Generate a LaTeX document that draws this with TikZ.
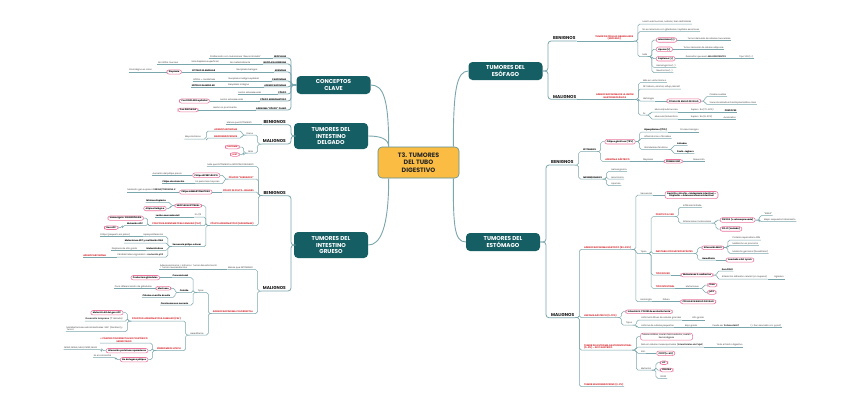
\documentclass[tikz,border=0pt]{standalone}
\usepackage{fontspec}
\setmainfont{Poppins}
\newfontfamily\arrfont{DejaVu Sans}
\newcommand\arr{{\arrfont →}}
\definecolor{mteal}{RGB}{20,94,100}
\definecolor{lnc}{RGB}{122,166,173}
\definecolor{redc}{RGB}{215,38,45}
\definecolor{pinkc}{RGB}{236,118,160}
\definecolor{txtc}{RGB}{60,60,60}
\definecolor{ctrc}{RGB}{250,188,66}
\newcommand\cnL[2]{\draw[ln] (#1) -| ([xshift=4pt]#2.south east) -- (#2.south west);}
\newcommand\cnLp[2]{\draw[ln] (#1) -| ([xshift=4pt]#2.east) -- (#2.east);}
\newcommand\cnR[2]{\draw[ln] (#1) -| ([xshift=-4pt]#2.south west) -- (#2.south east);}
\newcommand\cnRp[2]{\draw[ln] (#1) -| ([xshift=-4pt]#2.west) -- (#2.west);}
\newcommand\cnLm[2]{\draw[ln,line width=0.8pt,rounded corners=3pt] (#1) -| ([xshift=4pt]#2.south east) -- (#2.south west);}
\newcommand\cnRm[2]{\draw[ln,line width=0.8pt,rounded corners=3pt] (#1) -| ([xshift=-4pt]#2.south west) -- (#2.south east);}
\begin{document}
\begin{tikzpicture}[x=1pt,y=-1pt,
 ln/.style={draw=lnc, line width=0.5pt, rounded corners=1.8pt},
 mln/.style={draw=lnc, line width=0.9pt},
 mainbox/.style={fill=mteal, text=white, rounded corners=4pt, font=\fontsize{5.7}{6.6}\selectfont\bfseries, align=center, minimum width=74pt, inner sep=1pt},
 cbox/.style={fill=ctrc, draw=mteal!70, line width=0.6pt, rounded corners=4pt, text=black!85, font=\fontsize{6.3}{7.3}\selectfont\bfseries, align=center, minimum width=81pt, minimum height=31pt},
 lvl/.style={font=\fontsize{4.3}{5}\selectfont\bfseries, text=black!90, inner xsep=1pt, inner ysep=0.8pt},
 lt/.style={font=\fontsize{2.2}{2.7}\selectfont, text=txtc, inner xsep=0.5pt, inner ysep=0.5pt, align=left},
 lb/.style={lt, font=\fontsize{2.2}{2.7}\selectfont\bfseries, text=black},
 lr/.style={lt, font=\fontsize{2.3}{2.8}\selectfont\bfseries, text=redc, align=center},
 pk/.style={draw=pinkc, line width=0.55pt, fill=white, rounded corners=2.2pt, font=\fontsize{2.2}{2.7}\selectfont\bfseries, text=black, inner xsep=2pt, inner ysep=1pt, align=center},
 pkr/.style={pk, text=redc},
 L/.style={anchor=south east}, R/.style={anchor=south west},
 PL/.style={anchor=east}, PR/.style={anchor=west}]
\fill[white] (0,0) rectangle (848,408);
\useasboundingbox (0,0) rectangle (848,408);

% ===== main nodes
\node[cbox] (ctr) at (418.5,162.5) {T3. TUMORES\\DEL TUBO\\DIGESTIVO};
\node[mainbox, minimum height=18pt] (cc) at (333.5,85) {CONCEPTOS\\CLAVE};
\node[mainbox, minimum height=26pt] (dg) at (331,136) {TUMORES DEL\\INTESTINO\\DELGADO};
\node[mainbox, minimum height=26pt] (gr) at (331,245) {TUMORES DEL\\INTESTINO\\GRUESO};
\node[mainbox, minimum height=18pt] (es) at (505.5,71) {TUMORES DEL\\ESÓFAGO};
\node[mainbox, minimum height=18pt] (et) at (503,242) {TUMORES DEL\\ESTÓMAGO};

\draw[mln] ([xshift=11pt]ctr.north west) .. controls +(0,-50) and +(12,0) .. (cc.east);
\draw[mln] ([xshift=11pt]ctr.north west) .. controls +(0,-8) and +(12,0) .. (dg.east);
\draw[mln] ([xshift=11pt]ctr.south west) .. controls +(0,50) and +(12,0) .. (gr.east);
\draw[mln] ([xshift=-6pt]ctr.north east) .. controls +(0,-55) and +(-12,0) .. (es.west);
\draw[mln] ([xshift=-6pt]ctr.south east) .. controls +(0,45) and +(-12,0) .. (et.west);

% ===== CONCEPTOS CLAVE
\node[lb,L] (k1a) at (287,58) {NEOPLASIA};
\node[lt,L] (k1b) at ([xshift=-12pt]k1a.south west) {Proliferación con mutaciones ``descontrolada''};
\cnLm{cc.west}{k1a}
\draw[ln] (k1a.south west) -- (k1b.south west);

\node[lb,L] (k2a) at (287,64) {NEOPLASIA BENIGNA};
\node[lt,L] (k2b) at ([xshift=-12pt]k2a.south west) {No metastatizante};
\node[lt,L] (k2c) at ([xshift=-10pt]k2b.south west) {Solo displasia superficial};
\node[lt,L] (k2d) at ([xshift=-12pt]k2c.south west) {No infiltra mucosa};
\cnLm{cc.west}{k2a}
\draw[ln] (k2a.south west) -- (k2d.south west);

\node[lb,L] (k3a) at (287,72) {ADENOMA};
\node[lt,L] (k3b) at ([xshift=-16pt]k3a.south west) {Neoplasia benigna};
\node[lb,L] (k3c) at ([xshift=-20pt]k3b.south west) {EPITELIO GLANDULAR};
\node[pk,PL] (k3d) at ([xshift=-10pt]k3c.south west) {Displasia};
\node[lt,L] (k3e) at ([xshift=-14pt]k3d.west) {Premaligno en colon};
\cnLm{cc.west}{k3a}
\draw[ln] (k3a.south west) -- (k3d.east);
\draw[ln] (k3d.west) -- (k3e.south west);

\node[lb,L] (k4a) at (287,81) {CARCINOMA};
\node[lt,L] (k4b) at ([xshift=-12pt]k4a.south west) {Neoplasia maligna epitelial};
\node[lt,L] (k4c) at ([xshift=-12pt]k4b.south west) {Infiltra \arr{} metástasis};
\cnLm{cc.west}{k4a}
\draw[ln] (k4a.south west) -- (k4c.south west);

\node[lb,L] (k5a) at (287,87) {ADENOCARCINOMA};
\node[lt,L] (k5b) at ([xshift=-14pt]k5a.south west) {Neoplasia maligna};
\node[lb,L] (k5c) at ([xshift=-12pt]k5b.south west) {EPITELIO GLANDULAR};
\cnLm{cc.west}{k5a}
\draw[ln] (k5a.south west) -- (k5c.south west);

\node[lb,L] (k6a) at (287,94) {PÓLIPO};
\node[lt,L] (k6b) at ([xshift=-16pt]k6a.south west) {Lesión sobreelevada};
\cnLm{cc.west}{k6a}
\draw[ln] (k6a.south west) -- (k6b.south west);

\node[lb,L] (k7a) at (287,101) {PÓLIPO ADENOMATOSO};
\node[lt,L] (k7b) at ([xshift=-16pt]k7a.south west) {Lesión sobreelevada};
\node[pk,PL] (k7c) at ([xshift=-10pt]k7b.south west) {Con DISPLASIA epitelial};
\cnLm{cc.west}{k7a}
\draw[ln] (k7a.south west) -- (k7c.east);

\node[lb,L] (k8a) at (287,110) {ADENOMA ``PÓLIPO'' PLANO};
\node[lt,L] (k8b) at ([xshift=-18pt]k8a.south west) {Lesión no prominente};
\node[pk,PL] (k8c) at ([xshift=-14pt]k8b.south west) {Con DISPLASIA};
\cnLm{cc.west}{k8a}
\draw[ln] (k8a.south west) -- (k8c.east);

% ===== INTESTINO DELGADO
\node[lvl,L] (dben) at (287,124.7) {BENIGNOS};
\node[lt,L] (dben1) at ([xshift=-10pt]dben.south west) {Menos que ESTÓMAGO};
\cnLm{dg.west}{dben}
\draw[ln] (dben.south west) -- (dben1.south west);

\node[lvl,L] (dmal) at (287,144) {MALIGNOS};
\cnLm{dg.west}{dmal}
\node[lt,L] (draros) at ([xshift=-8pt,yshift=9pt]dmal.south west) {Raros};
\cnL{dmal.south west}{draros}
\node[lr,L] (dadc) at ([xshift=-8pt,yshift=4pt]draros.south west) {ADENOCARCINOMA};
\node[lr,L] (dneu) at ([xshift=-8pt,yshift=-3pt]draros.south west) {NEUROENDOCRINOS};
\cnL{draros.south west}{dadc}
\cnL{draros.south west}{dneu}
\node[lt,L] (dmay) at ([xshift=-12pt,yshift=-1pt]dneu.south west) {Mayoría Raros};
\draw[ln] (dadc.south west) -| ([xshift=5pt]dmay.south east) -- (dmay.south west);
\draw[ln] (dneu.south west) -| ([xshift=5pt]dmay.south east);
\node[lt,L] (dmas) at ([xshift=-8pt,yshift=-9pt]dmal.south west) {Más};
\cnL{dmal.south west}{dmas}
\node[pkr,PL] (dlin) at ([xshift=-8pt,yshift=6pt]dmas.south west) {LINFOMA};
\node[pkr,PL] (dgist) at ([xshift=-8pt,yshift=-1.5pt]dmas.south west) {GIST};
\cnLp{dmas.south west}{dlin}
\cnLp{dmas.south west}{dgist}

% ===== INTESTINO GRUESO - BENIGNOS
\node[lvl,L] (gben) at (287,195.7) {BENIGNOS};
\cnLm{gr.west}{gben}
\node[lt,L] (gb1) at ([xshift=-8pt,yshift=29pt]gben.south west) {Más que ESTÓMAGO e INTESTINO DELGADO};
\node[lr,L] (gb2) at ([xshift=-8pt,yshift=16.7pt]gben.south west) {PÓLIPOS ``SERRADOS''};
\node[lr,L] (gb3) at ([xshift=-8pt,yshift=3.7pt]gben.south west) {PÓLIPO DE PEUTZ-JEGHERS};
\node[lr,L] (gb4) at ([xshift=-8pt,yshift=-30pt]gben.south west) {PÓLIPO ADENOMATOSO (ADENOMAS)};
\cnL{gben.south west}{gb1}
\cnL{gben.south west}{gb2}
\cnL{gben.south west}{gb3}
\cnL{gben.south west}{gb4}

\node[pk,PL] (gb2a) at ([xshift=-8pt,yshift=3.7pt]gb2.south west) {Pólipo HIPERPLÁSICO};
\node[lt,L] (gb2a1) at ([xshift=-10pt]gb2a.west) {Aumento del pólipo previo};
\cnLp{gb2.south west}{gb2a}
\draw[ln] (gb2a.west) -- (gb2a1.south west);
\node[lt,L] (gb2b) at ([xshift=-8pt,yshift=-4.5pt]gb2.south west) {En personas mayores};
\node[lb,L] (gb2c) at ([xshift=-10pt]gb2b.south west) {Pólipo de retención};
\cnL{gb2.south west}{gb2b}
\draw[ln] (gb2b.south west) -- (gb2c.south west);

\node[pk,PL] (gb3a) at ([xshift=-10pt]gb3.south west) {Pólipo HAMARTOMATOSO};
\node[lt,L] (gb3a1) at ([xshift=-3pt]gb3a.west) {Mutación gen supresor \textbf{SERINA/TREONINA K}};
\draw[ln] (gb3.south west) -- (gb3a.east);
\draw[ln] (gb3a.west) -- (gb3a1.south west);

\node[pk,PL] (gb4a) at ([xshift=-8pt,yshift=20pt]gb4.south west) {NEOPLASIA EPITELIAL};
\cnLp{gb4.south west}{gb4a}
\node[lb,L] (gb4a1) at ([xshift=-8pt,yshift=3.4pt]gb4a.west) {Mínima displasia};
\node[pk,PL] (gb4a2) at ([xshift=-8pt,yshift=-2.8pt]gb4a.west) {Atipia citológica};
\cnL{gb4a.west}{gb4a1}
\cnLp{gb4a.west}{gb4a2}
\node[lt,L] (gb4b) at ([xshift=-8pt,yshift=8.7pt]gb4.south west) {En 1/3};
\node[lb,L] (gb4c) at ([xshift=-14pt]gb4b.south west) {Lesión aserrada sésil};
\cnL{gb4.south west}{gb4b}
\draw[ln] (gb4b.south west) -- (gb4c.south west);
\node[lr,L] (gb4d) at ([xshift=-8pt]gb4.south west) {POLIPOSIS ADENOMATOSA FAMILIAR (PAF)};
\cnL{gb4.south west}{gb4d}
\node[pk,PL] (gb4d1) at ([xshift=-8pt,yshift=7.5pt]gb4d.south west) {Homocigoto: SIN NEOPLASIA};
\node[lb,L] (gb4d2) at ([xshift=-8pt]gb4d.south west) {Mutación APC};
\node[pk,PL] (gb4d3) at ([xshift=-8pt,yshift=-2pt]gb4d2.south west) {Gen APC};
\cnLp{gb4d.south west}{gb4d1}
\cnL{gb4d.south west}{gb4d2}
\cnLp{gb4d2.south west}{gb4d3}
\node[lb,L] (gb4e) at ([xshift=-8pt,yshift=-21pt]gb4.south west) {Secuencia pólipo-cáncer};
\cnL{gb4.south west}{gb4e}
\node[lt,L] (s1a) at ([xshift=-8pt,yshift=10pt]gb4e.south west) {Hiperproliferación};
\node[lt,L] (s1b) at ([xshift=-12pt]s1a.south west) {Pólipo (pequeño sin plano)};
\node[lb,L] (s2) at ([xshift=-8pt,yshift=3.7pt]gb4e.south west) {Mutaciones APC y metilación DNA};
\node[lb,L] (s3a) at ([xshift=-8pt,yshift=-3.6pt]gb4e.south west) {Mutación Kras};
\node[lt,L] (s3b) at ([xshift=-8pt]s3a.south west) {Displasia de alto grado};
\node[lt,L] (s4a) at ([xshift=-8pt,yshift=-10.3pt]gb4e.south west) {Pérdida heterocigosidad + \textbf{mutación p53}};
\node[lr,L] (s4b) at ([xshift=-10pt]s4a.south west) {ADENOCARCINOMA};
\cnL{gb4e.south west}{s1a}
\cnL{gb4e.south west}{s2}
\cnL{gb4e.south west}{s3a}
\cnL{gb4e.south west}{s4a}
\draw[ln] (s1a.south west) -- (s1b.south west);
\draw[ln] (s3a.south west) -- (s3b.south west);
\draw[ln] (s4a.south west) -- (s4b.south west);

% ===== INTESTINO GRUESO - MALIGNOS
\node[lvl,L] (gmal) at (287,291) {MALIGNOS};
\cnLm{gr.west}{gmal}
\node[lt,L] (gm1) at ([xshift=-8pt,yshift=21.3pt]gmal.south west) {Menos que ESTÓMAGO};
\node[lt,L] (gm1a) at ([xshift=-10pt]gm1.south west) {Adenocarcinoma > Linfoma > Tumor del estroma GI\\> Tumor neuroendocrino};
\cnL{gmal.south west}{gm1}
\draw[ln] (gm1.south west) -- (gm1a.south west);
\node[lr,L] (gm2) at ([xshift=-8pt,yshift=-22.5pt]gmal.south west) {ADENOCARCINOMA COLORRECTAL};
\cnL{gmal.south west}{gm2}

\node[lt,L] (tp) at ([xshift=-8pt,yshift=21pt]gm2.south west) {Tipos};
\cnL{gm2.south west}{tp}
\node[lb,L] (tp1) at ([xshift=-8pt,yshift=14.8pt]tp.south west) {Convencional};
\node[pk,PL] (tp1a) at ([xshift=-12pt]tp1.south west) {Productora glándulas};
\cnL{tp.south west}{tp1}
\draw[ln] (tp1.south west) -- (tp1a.east);
\node[lb,L] (tp2) at ([xshift=-8pt]tp.south west) {Coloide};
\cnL{tp.south west}{tp2}
\node[pk,PL] (tp2a) at ([xshift=-8pt,yshift=4.2pt]tp2.south west) {Mucinoso};
\node[lt,L] (tp2a1) at ([xshift=-3pt]tp2a.west) {Poca diferenciación de glándulas};
\cnLp{tp2.south west}{tp2a}
\draw[ln] (tp2a.west) -- (tp2a1.south west);
\node[lb,L] (tp2b) at ([xshift=-8pt,yshift=-4.8pt]tp2.south west) {Células en anillo de sello};
\cnL{tp2.south west}{tp2b}
\node[lb,L] (tp3) at ([xshift=-8pt,yshift=-12.5pt]tp.south west) {Carcinoma con necrosis};
\cnL{tp.south west}{tp3}

\node[lt,L] (her) at ([xshift=-8pt,yshift=-21.5pt]gm2.south west) {Hereditarios};
\cnL{gm2.south west}{her}
\node[lr,L] (paf) at ([xshift=-8pt,yshift=14pt]her.south west) {POLIPOSIS ADENOMATOSA FAMILIAR (PAF)};
\cnL{her.south west}{paf}
\node[pk,PL] (paf1) at ([xshift=-8pt,yshift=8.3pt]paf.south west) {Mutación AD del gen APC};
\node[lt,L] (paf2) at ([xshift=-8pt]paf.south west) {\textbf{Desarrollo temprano} (1ª década)};
\node[lt,L] (paf3) at ([xshift=-8pt,yshift=-10.7pt]paf.south west) {Manifestaciones extraintestinales: SNC (Gardner) y\\Turcot};
\cnLp{paf.south west}{paf1}
\cnL{paf.south west}{paf2}
\cnL{paf.south west}{paf3}
\node[lr,L] (lyn) at ([xshift=-8pt,yshift=-15.7pt]her.south west) {SÍNDROME DE LYNCH};
\cnL{her.south west}{lyn}
\node[lr,L] (lynn) at ([xshift=-8pt,yshift=7.7pt]lyn.south west) {+ CÁNCER COLORRECTAL NO POLIPÓSICO\\HEREDITARIO};
\node[pk,PL] (lyn1) at ([xshift=-8pt]lyn.south west) {Alteración proteínas reparadoras};
\node[lt,L] (lyn1a) at ([xshift=-8pt,yshift=1.2pt]lyn1.west) {MSH2, MSH6, MLH1, PMS2, MLH3};
\node[pk,PL] (lyn2) at ([xshift=-8pt,yshift=-9pt]lyn.south west) {No da lugar a pólipos};
\node[lt,L] (lyn2a) at ([xshift=-8pt,yshift=2.2pt]lyn2.west) {En el colorrectal};
\cnL{lyn.south west}{lynn}
\cnLp{lyn.south west}{lyn1}
\cnLp{lyn.south west}{lyn2}
\cnL{lyn1.west}{lyn1a}
\cnL{lyn2.west}{lyn2a}

% ===== ESOFAGO
\node[lvl,R] (eben) at (552,41) {BENIGNOS};
\cnRm{es.east}{eben}
\node[lr,R] (egran) at ([xshift=18pt]eben.south east) {TUMOR DE CÉLULAS GRANULARES\\(ESÓFAGO)};
\draw[ln] (eben.south east) -- (egran.south east);
\node[lt,R] (eg1) at ([xshift=8pt,yshift=17pt]egran.south east) {Lesión submucosa, nodular, bien delimitada};
\node[lt,R] (eg2) at ([xshift=8pt,yshift=9.3pt]egran.south east) {No se relaciona con glándulas ni epitelio escamoso};
\node[lt,R] (eg3) at ([xshift=8pt,yshift=-15.7pt]egran.south east) {Más};
\cnR{egran.south east}{eg1}
\cnR{egran.south east}{eg2}
\cnR{egran.south east}{eg3}
\node[pk,PR] (eg3a) at ([xshift=8pt,yshift=16.7pt]eg3.south east) {Leiomioma (+)};
\node[lt,R] (eg3a1) at ([xshift=10pt]eg3a.east) {Tumor derivado de células musculares};
\node[pk,PR] (eg3b) at ([xshift=8pt,yshift=7.4pt]eg3.south east) {Lipoma (+)};
\node[lt,R] (eg3b1) at ([xshift=10pt]eg3b.east) {Tumor derivado de células adiposas};
\node[pk,PR] (eg3c) at ([xshift=8pt,yshift=-2pt]eg3.south east) {Papiloma (+)};
\node[lt,R] (eg3c1) at ([xshift=10pt]eg3c.east) {Descartar que sean \textbf{MALIGNIZANTES}};
\node[lt,R] (eg3c2) at ([xshift=12pt]eg3c1.south east) {Tipo VPH (+)};
\node[lt,R] (eg3d) at ([xshift=8pt,yshift=-10.6pt]eg3.south east) {Hemangioma (-)};
\node[lt,R] (eg3e) at ([xshift=8pt,yshift=-15.8pt]eg3.south east) {Neurinoma (-)};
\cnRp{eg3.south east}{eg3a}
\cnRp{eg3.south east}{eg3b}
\cnRp{eg3.south east}{eg3c}
\cnR{eg3.south east}{eg3d}
\cnR{eg3.south east}{eg3e}
\draw[ln] (eg3a.east) -- (eg3a1.south east);
\draw[ln] (eg3b.east) -- (eg3b1.south east);
\draw[ln] (eg3c.east) -- (eg3c2.south east);

\node[lvl,R] (emal) at (552,99.3) {MALIGNOS};
\cnRm{es.east}{emal}
\node[lr,R] (eadc) at ([xshift=18pt]emal.south east) {ADENOCARCINOMA DE LA UNIÓN\\GASTROESOFÁGICA};
\draw[ln] (emal.south east) -- (eadc.south east);
\node[lt,R] (ea1) at ([xshift=8pt,yshift=16.6pt]eadc.south east) {Más en varón blanco};
\node[lt,R] (ea2) at ([xshift=8pt,yshift=10.3pt]eadc.south east) {FR: tabaco, alcohol, reflujo, Barrett};
\node[lt,R] (ea3) at ([xshift=8pt,yshift=-1.7pt]eadc.south east) {Histología};
\node[lt,R] (ea4) at ([xshift=8pt,yshift=-15.7pt]eadc.south east) {Px};
\cnR{eadc.south east}{ea1}
\cnR{eadc.south east}{ea2}
\cnR{eadc.south east}{ea3}
\cnR{eadc.south east}{ea4}
\node[pk,PR] (ea3a) at ([xshift=12pt]ea3.south east) {CÉLULA EN ANILLO DE SELLO};
\draw[ln] (ea3.south east) -- (ea3a.west);
\node[lt,R] (ea3a1) at ([xshift=8pt,yshift=4.3pt]ea3a.east) {Células sueltas};
\node[lt,R] (ea3a2) at ([xshift=8pt,yshift=-3.3pt]ea3a.east) {Vacuola aislada intracitoplasmática clara};
\cnR{ea3a.east}{ea3a1}
\cnR{ea3a.east}{ea3a2}
\node[lt,R] (ea4a) at ([xshift=8pt,yshift=3pt]ea4.south east) {Mucosa/submucosa};
\node[lt,R] (ea4b) at ([xshift=12pt]ea4a.south east) {Superv. 5a (70-90\%)};
\node[lb,R] (ea4c) at ([xshift=10pt]ea4b.south east) {PRECOCES};
\node[lt,R] (ea5a) at ([xshift=8pt,yshift=-4pt]ea4.south east) {Muscular/adventicia};
\node[lt,R] (ea5b) at ([xshift=12pt]ea5a.south east) {Superv. 5a (8-30\%)};
\node[lt,R] (ea5c) at ([xshift=10pt]ea5b.south east) {Avanzados};
\cnR{ea4.south east}{ea4a}
\cnR{ea4.south east}{ea5a}
\draw[ln] (ea4a.south east) -- (ea4c.south east);
\draw[ln] (ea5a.south east) -- (ea5c.south east);

% ===== ESTOMAGO - BENIGNOS
\node[lvl,R] (tben) at (550,165) {BENIGNOS};
\cnRm{et.east}{tben}
\node[lb,R] (tb1) at ([xshift=8pt,yshift=13.3pt]tben.south east) {EPITELIALES};
\node[lb,R] (tb2) at ([xshift=8pt,yshift=-14pt]tben.south east) {MESENQUIMALES};
\cnR{tben.south east}{tb1}
\cnR{tben.south east}{tb2}
\node[pk,PR] (tb1a) at ([xshift=8pt,yshift=10pt]tb1.south east) {Pólipos gástricos (75\%)};
\cnRp{tb1.south east}{tb1a}
\node[lb,R] (tb1a1) at ([xshift=8pt,yshift=9.7pt]tb1a.east) {Hiperplásicos (75\%)};
\node[lt,R] (tb1a1b) at ([xshift=12pt]tb1a1.south east) {Proceso benigno};
\node[lt,R] (tb1a2) at ([xshift=8pt,yshift=3.4pt]tb1a.east) {Inflamatorios o fibroides};
\node[lt,R] (tb1a3) at ([xshift=8pt,yshift=-7.6pt]tb1a.east) {Glandulares fúndicos};
\cnR{tb1a.east}{tb1a1}
\cnR{tb1a.east}{tb1a2}
\cnR{tb1a.east}{tb1a3}
\draw[ln] (tb1a1.south east) -- (tb1a1b.south east);
\node[lb,R] (tb1a3a) at ([xshift=8pt,yshift=3.6pt]tb1a3.south east) {Aislados};
\node[lb,R] (tb1a3b) at ([xshift=8pt,yshift=-4pt]tb1a3.south east) {Peutz-Jeghers};
\cnR{tb1a3.south east}{tb1a3a}
\cnR{tb1a3.south east}{tb1a3b}
\node[lr,R] (tb1b) at ([xshift=8pt,yshift=-9.6pt]tb1.south east) {ADENOMA GÁSTRICO};
\node[lt,R] (tb1b1) at ([xshift=12pt]tb1b.south east) {Displasia};
\node[pk,PR] (tb1b2) at ([xshift=10pt]tb1b1.south east) {PREMALIGNO};
\node[lt,R] (tb1b3) at ([xshift=10pt]tb1b2.east) {Resección};
\cnR{tb1.south east}{tb1b}
\draw[ln] (tb1b.south east) -- (tb1b2.west);
\draw[ln] (tb1b2.east) -- (tb1b3.south east);
\node[lt,R] (tb2a) at ([xshift=8pt,yshift=7.3pt]tb2.south east) {Hemangioma};
\node[lt,R] (tb2b) at ([xshift=8pt]tb2.south east) {Leiomioma};
\node[lt,R] (tb2c) at ([xshift=8pt,yshift=-6.7pt]tb2.south east) {Lipomas};
\cnR{tb2.south east}{tb2a}
\cnR{tb2.south east}{tb2b}
\cnR{tb2.south east}{tb2c}

% ===== ESTOMAGO - MALIGNOS
\node[lvl,R] (tmal) at (550,317.7) {MALIGNOS};
\cnRm{et.east}{tmal}
\node[lr,R] (ag) at ([xshift=8pt,yshift=68.4pt]tmal.south east) {ADENOCARCINOMA GÁSTRICO (90-95\%)};
\node[lr,R] (lg) at ([xshift=8pt]tmal.south east) {LINFOMA GÁSTRICO (5-10\%)};
\node[lr,R,align=left] (gs) at ([xshift=8pt,yshift=-32.3pt]tmal.south east) {TUMOR DEL ESTROMA GASTROINTESTINAL\\(5-8\%) - GIST GÁSTRICO};
\node[lr,R] (ne) at ([xshift=8pt,yshift=-69pt]tmal.south east) {TUMOR NEUROENDOCRINO (2-3\%)};
\cnR{tmal.south east}{ag}
\cnR{tmal.south east}{lg}
\cnR{tmal.south east}{gs}
\cnR{tmal.south east}{ne}

\node[lt,R] (ag1) at ([xshift=8pt,yshift=54.3pt]ag.south east) {Secuencia};
\node[pk,PR] (ag1a) at ([xshift=12pt]ag1.south east) {Gastritis y Atrofia \arr{} Metaplasia intestinal \arr{}\\Displasia \arr{} Adenocarcinoma intestinal};
\node[lt,R] (ag2) at ([xshift=8pt,yshift=-4.2pt]ag.south east) {Tipos};
\node[lt,R] (ag3) at ([xshift=8pt,yshift=-52.4pt]ag.south east) {Histología};
\cnR{ag.south east}{ag1}
\cnR{ag.south east}{ag2}
\cnR{ag.south east}{ag3}
\draw[ln] (ag1.south east) -- (ag1a.west);
\node[lt,R] (ag3a) at ([xshift=10pt]ag3.south east) {Difuso};
\node[pk,PR] (ag3b) at ([xshift=10pt]ag3a.south east) {CÉLULAS EN ANILLO DE SELLO};
\draw[ln] (ag3.south east) -- (ag3b.west);

\node[lr,R] (t1) at ([xshift=8pt,yshift=36.8pt]ag2.south east) {POSITIVO A VEB};
\node[lr,R] (t2) at ([xshift=8pt]ag2.south east) {INESTABLE POR MICROSATÉLITES};
\node[lr,R] (t3) at ([xshift=8pt,yshift=-21.5pt]ag2.south east) {TIPO DIFUSO};
\node[lr,R] (t4) at ([xshift=8pt,yshift=-34.8pt]ag2.south east) {TIPO INTESTINAL};
\cnR{ag2.south east}{t1}
\cnR{ag2.south east}{t2}
\cnR{ag2.south east}{t3}
\cnR{ag2.south east}{t4}

\node[lt,R] (t1a) at ([xshift=8pt,yshift=9.4pt]t1.south east) {Infiltrado linfoide};
\node[lt,R] (t1b) at ([xshift=8pt,yshift=-6.3pt]t1.south east) {Alteraciones moleculares};
\cnR{t1.south east}{t1a}
\cnR{t1.south east}{t1b}
\node[pk,PR] (t1b1) at ([xshift=8pt,yshift=3pt]t1b.south east) {PIK3CA (+ sobreexpresado)};
\node[pk,PR] (t1b2) at ([xshift=8pt,yshift=-6pt]t1b.south east) {PD-L1 (mutado)};
\cnRp{t1b.south east}{t1b1}
\cnRp{t1b.south east}{t1b2}
\node[lt,R] (t1b1a) at ([xshift=8pt,yshift=4.3pt]t1b1.east) {``Erbb2''};
\node[lt,R] (t1b1b) at ([xshift=8pt,yshift=-1.7pt]t1b1.east) {Mejor respuesta tratamiento};
\cnR{t1b1.east}{t1b1a}
\cnR{t1b1.east}{t1b1b}

\node[pk,PR] (t2a) at ([xshift=8pt,yshift=5.8pt]t2.south east) {Alteración MLH1};
\cnRp{t2.south east}{t2a}
\node[lt,R] (t2a1) at ([xshift=8pt,yshift=7.7pt]t2a.east) {Proteína reparadora ADN};
\node[lt,R] (t2a2) at ([xshift=8pt,yshift=2.4pt]t2a.east) {Metilación en promotor};
\node[lt,R] (t2a3) at ([xshift=8pt,yshift=-5.6pt]t2a.east) {Mutación germinal (hereditario)};
\cnR{t2a.east}{t2a1}
\cnR{t2a.east}{t2a2}
\cnR{t2a.east}{t2a3}
\node[lb,R] (t2b) at ([xshift=8pt,yshift=-6.5pt]t2.south east) {Hereditario};
\node[pk,PR] (t2b1) at ([xshift=10pt]t2b.south east) {Asociado a Sd. Lynch};
\cnR{t2.south east}{t2b}
\draw[ln] (t2b.south east) -- (t2b1.west);

\node[pk,PR] (t3a) at ([xshift=10pt]t3.south east) {Mutaciones E-cadherina};
\draw[ln] (t3.south east) -- (t3a.west);
\node[lb,R] (t3a1) at ([xshift=8pt,yshift=4pt]t3a.east) {Gen CDH1};
\node[lt,R] (t3a2) at ([xshift=8pt,yshift=-4pt]t3a.east) {Alteración adhesión celular (en mujeres)};
\node[lt,R] (t3a3) at ([xshift=6pt]t3a2.south east) {Agresivo};
\cnR{t3a.east}{t3a1}
\cnR{t3a.east}{t3a2}
\draw[ln] (t3a2.south east) -- (t3a3.south east);

\node[lt,R] (t4a) at ([xshift=10pt]t4.south east) {Mutaciones};
\draw[ln] (t4.south east) -- (t4a.south east);
\node[pk,PR] (t4b) at ([xshift=8pt,yshift=3.3pt]t4a.south east) {Kras};
\node[pk,PR] (t4c) at ([xshift=8pt,yshift=-4pt]t4a.south east) {p53};
\cnRp{t4a.south east}{t4b}
\cnRp{t4a.south east}{t4c}

\node[pk,PR] (lg1) at ([xshift=8pt,yshift=6pt]lg.south east) {Infección H. PYLORI de evolución lenta};
\node[lt,R] (lg2) at ([xshift=8pt,yshift=-7.3pt]lg.south east) {Tipos};
\cnRp{lg.south east}{lg1}
\cnR{lg.south east}{lg2}
\node[lt,R] (lg2a) at ([xshift=8pt,yshift=5pt]lg2.south east) {Linfoma B difuso de células grandes};
\node[lt,R] (lg2a2) at ([xshift=10pt]lg2a.south east) {Alto grado};
\node[lt,R] (lg2b) at ([xshift=8pt,yshift=-2.7pt]lg2.south east) {Linfoma de células pequeñas};
\node[lt,R] (lg2b2) at ([xshift=10pt]lg2b.south east) {Bajo grado};
\node[lt,R] (lg2b3) at ([xshift=14pt]lg2b2.south east) {Puede ser \textbf{linfoma MALT}};
\node[lt,R] (lg2b4) at ([xshift=10pt]lg2b3.south east) {(+ frec asociado a H. pylori)};
\cnR{lg2.south east}{lg2a}
\cnR{lg2.south east}{lg2b}
\draw[ln] (lg2a.south east) -- (lg2a2.south east);
\draw[ln] (lg2b.south east) -- (lg2b4.south east);

\node[pk,PR,font=\fontsize{2.2}{2.7}\selectfont] (gs1) at ([xshift=8pt,yshift=13.3pt]gs.south east) {Masas sólidas, crecen hacia exterior, suelen\\hemorrágicas};
\node[lt,R] (gs2) at ([xshift=8pt,yshift=3pt]gs.south east) {Derivan células mesenquimales (\textbf{intersticiales de Cajal})};
\node[lt,R] (gs2b) at ([xshift=12pt]gs2.south east) {Todo el tracto digestivo};
\node[lt,R] (gs3) at ([xshift=8pt,yshift=-3.3pt]gs.south east) {Inm.};
\node[pk,PR] (gs3a) at ([xshift=10pt]gs3.south east) {CD117 (c-kit)};
\node[lt,R] (gs4) at ([xshift=8pt,yshift=-20pt]gs.south east) {Mutación};
\cnRp{gs.south east}{gs1}
\cnR{gs.south east}{gs2}
\cnR{gs.south east}{gs3}
\cnR{gs.south east}{gs4}
\draw[ln] (gs2.south east) -- (gs2b.south east);
\draw[ln] (gs3.south east) -- (gs3a.west);
\node[pk,PR] (gs4a) at ([xshift=8pt,yshift=7.3pt]gs4.south east) {KIT};
\node[pk,PR] (gs4b) at ([xshift=8pt]gs4.south east) {PDGFRA};
\node[lt,R] (gs4c) at ([xshift=8pt,yshift=-8.3pt]gs4.south east) {DOG1};
\cnRp{gs4.south east}{gs4a}
\cnRp{gs4.south east}{gs4b}
\cnR{gs4.south east}{gs4c}
\end{tikzpicture}
\end{document}
